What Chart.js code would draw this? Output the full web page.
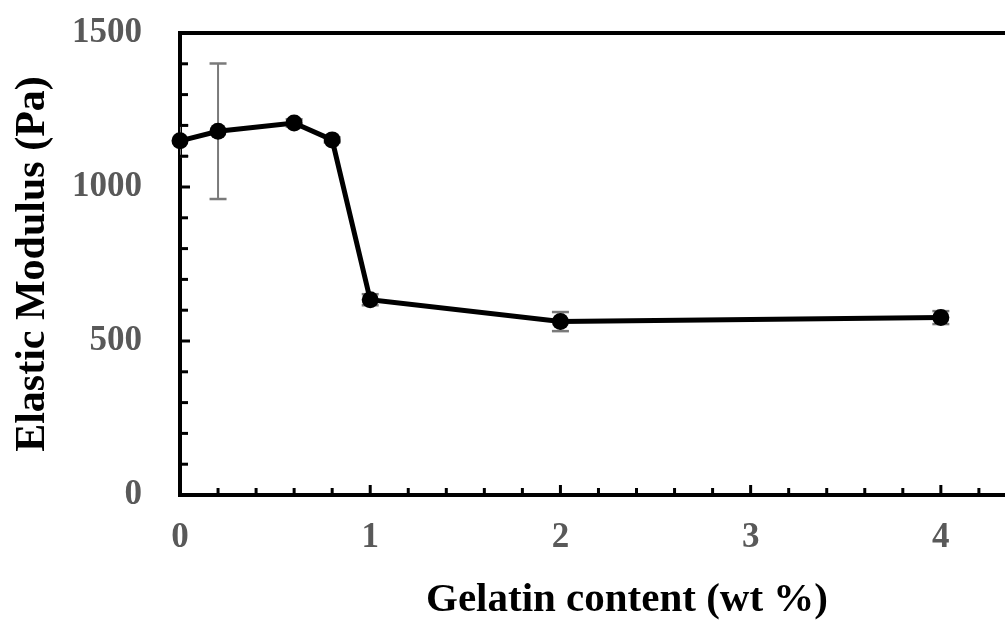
<!DOCTYPE html>
<html>
<head>
<meta charset="utf-8">
<script src="https://cdn.jsdelivr.net/npm/chart.js@4.4.1/dist/chart.umd.min.js"></script>
<style>
  html, body { margin: 0; padding: 0; background: #ffffff; overflow: hidden; }
  #wrap { position: relative; width: 1085px; height: 621px; }
</style>
</head>
<body>
<div id="wrap"><canvas id="chart"></canvas></div>
<script>
// ---- data ----
const gelatinContent = [0, 0.2, 0.6, 0.8, 1, 2, 4];            // wt %
const elasticModulus = [1150, 1181, 1208, 1153, 634, 563, 576]; // Pa
const modulusError   = [50, 220, 12, 8, 18, 31, 21];            // Pa (± error)
const xTickLabels = [0, 1, 2, 3, 4];
const yTickLabels = [0, 500, 1000, 1500];
const xTitle = 'Gelatin content (wt %)';
const yTitle = 'Elastic Modulus (Pa)';

const X_MIN = 0, X_MAX = 4.7, Y_MIN = 0, Y_MAX = 1500;
const SERIF = '"Liberation Serif", "Times New Roman", serif';
const TICK_GREY = '#595959';
const ERR_GREY = '#7a7a7a';

const mainData = gelatinContent.map((x, i) => ({ x: x, y: elasticModulus[i] }));

const errorDatasets = gelatinContent.map((x, i) => ({
  label: 'err' + i,
  data: [
    { x: x, y: elasticModulus[i] - modulusError[i] },
    { x: x, y: elasticModulus[i] + modulusError[i] }
  ],
  showLine: true,
  borderColor: ERR_GREY,
  borderWidth: 2,
  pointStyle: 'line',
  pointRadius: 8.5,
  pointHoverRadius: 8.5,
  pointBorderColor: ERR_GREY,
  pointBorderWidth: 2.5,
  pointBackgroundColor: ERR_GREY,
  order: 1
}));

// frame top line + inward minor/major tick marks, positioned via the chart's scales
const framePlugin = {
  id: 'frame',
  afterDatasetsDraw(chart) {
    const { ctx, chartArea, scales } = chart;
    const xs = scales.x, ys = scales.y;
    ctx.save();
    ctx.strokeStyle = '#000';
    ctx.lineCap = 'butt';
    ctx.lineWidth = 4;
    ctx.beginPath();
    ctx.moveTo(chartArea.left - 2, chartArea.top);
    ctx.lineTo(chartArea.right, chartArea.top);
    ctx.stroke();
    ctx.lineWidth = 3;
    for (let k = 1; k * 0.2 <= X_MAX + 1e-9; k++) {
      const px = xs.getPixelForValue(k * 0.2);
      const len = (k % 5 === 0) ? 10 : 7;
      ctx.beginPath();
      ctx.moveTo(px, chartArea.bottom);
      ctx.lineTo(px, chartArea.bottom - len);
      ctx.stroke();
    }
    for (let k = 1; k * 100 <= Y_MAX; k++) {
      const py = ys.getPixelForValue(k * 100);
      const len = (k % 5 === 0) ? 10 : 8;
      ctx.beginPath();
      ctx.moveTo(chartArea.left, py);
      ctx.lineTo(chartArea.left + len, py);
      ctx.stroke();
    }
    ctx.restore();
  }
};

new Chart(document.getElementById('chart'), {
  type: 'scatter',
  data: {
    datasets: [
      {
        label: 'Elastic Modulus',
        data: mainData,
        showLine: true,
        borderColor: '#000',
        borderWidth: 5,
        pointRadius: 8.5,
        pointHoverRadius: 8.5,
        pointBackgroundColor: '#000',
        pointBorderColor: '#000',
        pointBorderWidth: 0,
        clip: false,
        order: 0
      },
      ...errorDatasets
    ]
  },
  options: {
    responsive: true,
    maintainAspectRatio: false,
    animation: false,
    events: [],
    layout: { padding: { top: 33, right: 2, bottom: 0, left: 0 } },
    plugins: { legend: { display: false }, tooltip: { enabled: false } },
    scales: {
      x: {
        type: 'linear',
        min: X_MIN,
        max: X_MAX,
        afterBuildTicks: (scale) => { scale.ticks = xTickLabels.map(v => ({ value: v })); },
        afterFit: (scale) => {
          scale.height = 126;
          scale.paddingLeft = 0; scale.paddingRight = 0;
          scale.paddingTop = 0; scale.paddingBottom = 0;
        },
        grid: { display: false, drawTicks: false },
        border: { display: true, color: '#000', width: 4 },
        ticks: {
          includeBounds: false,
          autoSkip: false,
          maxRotation: 0,
          padding: 22,
          color: TICK_GREY,
          font: { family: SERIF, size: 35, weight: 'bold', lineHeight: 1.2 },
          callback: (v) => String(v)
        },
        title: {
          display: true,
          text: xTitle,
          color: '#000',
          font: { family: SERIF, size: 41, weight: 'bold', lineHeight: 1 },
          padding: { top: 0, bottom: 0 }
        }
      },
      y: {
        type: 'linear',
        min: Y_MIN,
        max: Y_MAX,
        afterBuildTicks: (scale) => { scale.ticks = yTickLabels.map(v => ({ value: v })); },
        afterFit: (scale) => {
          scale.width = 180;
          scale.paddingLeft = 0; scale.paddingRight = 0;
          scale.paddingTop = 0; scale.paddingBottom = 0;
        },
        grid: { display: false, drawTicks: false },
        border: { display: true, color: '#000', width: 4 },
        ticks: {
          padding: 38,
          color: TICK_GREY,
          font: { family: SERIF, size: 35, weight: 'bold', lineHeight: 1.2 },
          callback: (v) => String(v)
        },
        title: {
          display: true,
          text: yTitle,
          color: '#000',
          font: { family: SERIF, size: 42, weight: 'bold', lineHeight: 1 },
          padding: { top: 12, bottom: 0 }
        }
      }
    }
  },
  plugins: [framePlugin]
});
</script>
</body>
</html>
